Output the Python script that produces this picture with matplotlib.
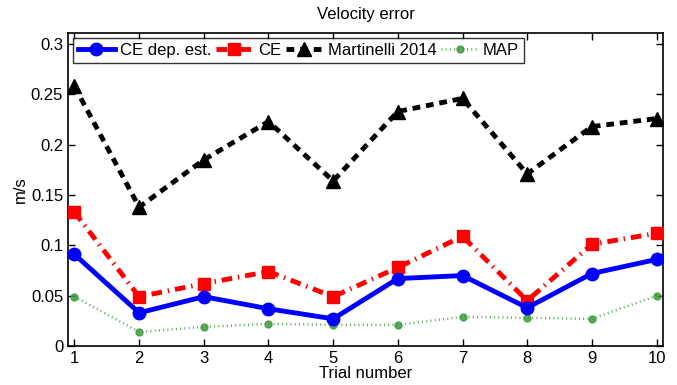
import matplotlib
matplotlib.use("Agg")
import matplotlib.pyplot as plt

trials = [1, 2, 3, 4, 5, 6, 7, 8, 9, 10]
ce_dep = [0.091, 0.033, 0.049, 0.037, 0.027, 0.067, 0.070, 0.038, 0.072, 0.086]
ce = [0.133, 0.049, 0.062, 0.074, 0.049, 0.078, 0.109, 0.045, 0.101, 0.112]
martinelli = [0.258, 0.138, 0.185, 0.223, 0.164, 0.233, 0.246, 0.171, 0.218, 0.226]
map_est = [0.049, 0.014, 0.019, 0.022, 0.021, 0.021, 0.029, 0.028, 0.027, 0.050]
labels = ["CE dep. est.", "CE", "Martinelli 2014", "MAP"]

plt.rcParams['font.family'] = ['Liberation Sans', 'DejaVu Sans']
fig = plt.figure(figsize=(6.77, 3.85), dpi=100)
ax = fig.add_axes([68/677, 1-346/385, (663-68)/677, (346-33)/385])

ax.plot(trials, ce_dep, color='#0000ff', lw=3.5, marker='o', ms=9, label=labels[0], zorder=4)
ax.plot(trials, ce, color='#ff0000', lw=3.5, linestyle=(0, (2.2, 1.2, 0.3, 1.2)), marker='s', ms=8.5, label=labels[1], zorder=3)
ax.plot(trials, martinelli, color='black', lw=3.5, linestyle=(0, (1.6, 1.2)), marker='^', ms=10, label=labels[2], zorder=3)
ax.plot(trials, map_est, color='#3e9a3e', lw=1.8, linestyle=(0, (0.4, 1.3)), marker='o', ms=5, label=labels[3], zorder=2, alpha=0.85)

ax.set_xlim(0.9, 10.1)
ax.set_ylim(0, 0.311)
ax.set_xticks(trials)
ax.set_yticks([0, 0.05, 0.1, 0.15, 0.2, 0.25, 0.3])
ax.set_yticklabels(['0', '0.05', '0.1', '0.15', '0.2', '0.25', '0.3'])
ax.tick_params(direction='in', top=True, right=True, labelsize=12, length=5, width=1)
for s in ax.spines.values():
    s.set_linewidth(1.2)
ax.set_xlabel('Trial number', fontsize=12, labelpad=0)
ax.set_ylabel('m/s', fontsize=12, labelpad=2)
ax.set_title('Velocity error', fontsize=12, pad=10)

leg = ax.legend(loc='upper left', ncol=4, fontsize=12, frameon=True, fancybox=False,
                edgecolor='black', borderpad=0.3, handlelength=2.2, handletextpad=0.3,
                columnspacing=0.3, borderaxespad=0.3)
leg.get_frame().set_linewidth(1.0)

fig.savefig('out.png', dpi=100)
